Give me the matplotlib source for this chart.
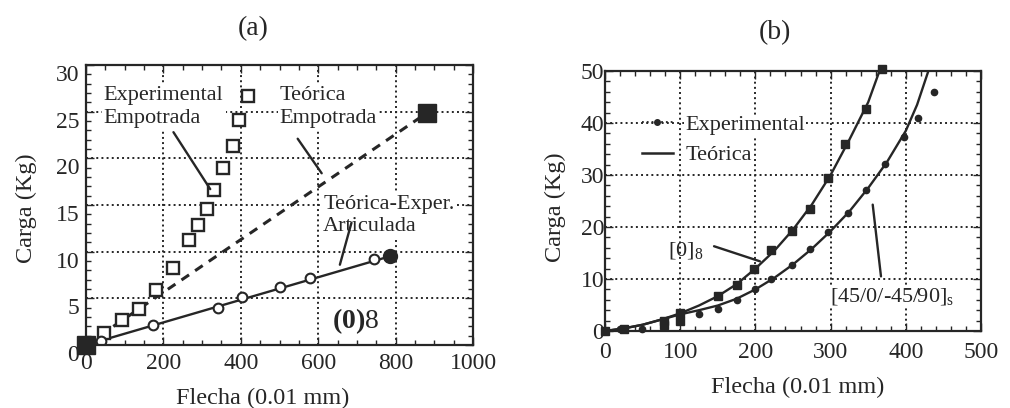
import matplotlib.pyplot as plt
from matplotlib.lines import Line2D
from matplotlib.ticker import MultipleLocator
from matplotlib.transforms import ScaledTranslation

plt.rcParams['font.family'] = ['Liberation Serif', 'DejaVu Serif']
plt.rcParams['mathtext.fontset'] = 'custom'
plt.rcParams['mathtext.rm'] = 'Liberation Serif'
plt.rcParams['mathtext.it'] = 'Liberation Serif:italic'
plt.rcParams['mathtext.bf'] = 'Liberation Serif:bold'

INK = '#262626'

# ---- panel (a): (0)8 laminate ----
exp_emp_x = [47, 93, 136, 181, 224, 267, 289, 312, 332, 355, 379, 396, 418]
exp_emp_y = [1.3, 2.7, 3.9, 5.9, 8.3, 11.2, 12.9, 14.6, 16.6, 19.0, 21.3, 24.1, 26.7]
teo_emp_x = [0, 882]
teo_emp_y = [0, 24.9]
art_x = [40, 172, 342, 404, 501, 580, 745]
art_y = [0.4, 2.1, 4.0, 5.1, 6.2, 7.2, 9.2]
teo_art_x = [0, 785]
teo_art_y = [0, 9.5]

# ---- panel (b) ----
sq_x = [0, 25, 79, 79, 100, 100, 150, 176, 198, 221, 249, 272, 296, 319, 347, 369]
sq_y = [0, 0.3, 2.0, 1.2, 3.5, 1.9, 6.7, 8.9, 11.9, 15.5, 19.2, 23.5, 29.4, 36.0, 42.7, 50.3]
dot_x = [0, 20, 49, 100, 125, 150, 176, 200, 221, 249, 272, 296, 323, 347, 372, 397, 416, 437]
dot_y = [0, 0.3, 0.3, 3.3, 3.2, 4.2, 6.0, 8.1, 10.0, 12.6, 15.8, 19.0, 22.7, 27.2, 32.1, 37.4, 41.0, 45.9]
teo0_x = [0, 25, 50, 75, 100, 125, 150, 175, 200, 225, 250, 275, 300, 325, 350, 365]
teo0_y = [0, 0.5, 1.2, 2.2, 3.4, 4.9, 6.7, 9.0, 12.0, 15.4, 19.5, 24.3, 30.0, 36.8, 44.0, 50.0]
teo45_x = [0, 25, 50, 75, 100, 125, 150, 175, 200, 225, 250, 275, 300, 325, 350, 375, 400, 415, 430]
teo45_y = [0, 0.5, 1.2, 2.2, 3.2, 4.0, 4.9, 6.2, 8.0, 10.2, 12.8, 15.8, 19.2, 23.0, 27.5, 32.5, 38.5, 43.5, 50.0]


def style(ax, xmaj, xmin, ymaj, ymin):
    ax.xaxis.set_major_locator(MultipleLocator(xmaj))
    ax.xaxis.set_minor_locator(MultipleLocator(xmin))
    ax.yaxis.set_major_locator(MultipleLocator(ymaj))
    ax.yaxis.set_minor_locator(MultipleLocator(ymin))
    ax.tick_params(which='both', direction='in', top=True, right=True,
                   colors=INK, labelsize=17, width=1.0)
    ax.tick_params(which='major', length=6)
    ax.tick_params(which='minor', length=3.5)
    for s in ax.spines.values():
        s.set_linewidth(1.6)
        s.set_color(INK)
    ax.grid(True, which='major', ls=':', lw=1.4, color=INK)
    ax.set_axisbelow(True)


fig = plt.figure(figsize=(10.1, 4.08), dpi=100)
ax1 = fig.add_axes([86/1010, 63/408, 387/1010, 280/408])
ax2 = fig.add_axes([605/1010, 77/408, 376/1010, 260/408])

# ---------- (a) ----------
style(ax1, 200, 50, 5, 1)
ax1.set_xlim(0, 1000)
ax1.set_ylim(0, 30)
ax1.tick_params(axis='x', pad=6)
ax1.tick_params(axis='y', pad=5)

ax1.plot(teo_emp_x, teo_emp_y, color=INK, lw=2.2, dashes=(3, 2.4))
ax1.plot(teo_art_x, teo_art_y, color=INK, lw=1.7)
ax1.plot(exp_emp_x, exp_emp_y, ls='none', marker='s', ms=8.5, mfc='white',
         mec=INK, mew=1.7)
ax1.plot(art_x, art_y, ls='none', marker='o', ms=7, mfc='white', mec=INK, mew=1.5)
ax1.plot(teo_emp_x, teo_emp_y, ls='none', marker='s', ms=13, color=INK, clip_on=False)
ax1.plot(teo_art_x[1:], teo_art_y[1:], ls='none', marker='o', ms=10, color=INK, clip_on=False)

box = dict(facecolor='white', edgecolor='none', pad=1.5)
ax1.text(46, 25.5, 'Experimental\nEmpotrada', ha='left', va='center', fontsize=16,
         color=INK, linespacing=1.25, bbox=box, zorder=1.5)
ax1.text(500, 25.5, 'Teórica\nEmpotrada', ha='left', va='center', fontsize=16,
         color=INK, linespacing=1.25, bbox=box, zorder=1.5)
ax1.text(613, 13.9, 'Teórica-Exper.\nArticulada', ha='left', va='center', fontsize=16,
         color=INK, linespacing=1.25, bbox=box, zorder=1.5)
ax1.text(636, 2.6, r'$\mathbf{(0)}$8', ha='left', va='center', fontsize=20, color=INK)
for (x0, y0), (x1, y1) in [((226, 22.8), (321, 16.7)),
                           ((547, 22.1), (609, 18.4)),
                           ((686, 13.1), (656, 8.6))]:
    ax1.annotate('', xy=(x1, y1), xytext=(x0, y0),
                 arrowprops=dict(arrowstyle='-', lw=1.7, color=INK,
                                 shrinkA=0, shrinkB=0))

for lab in ax1.get_yticklabels():
    lab.set_transform(lab.get_transform() + ScaledTranslation(0, -0.08, fig.dpi_scale_trans))

# ---------- (b) ----------
style(ax2, 100, 20, 10, 2)
ax2.set_xlim(0, 500)
ax2.set_ylim(0, 50)
ax2.tick_params(axis='x', pad=8)
ax2.tick_params(axis='y', pad=0.5)

ax2.plot(teo0_x, teo0_y, color=INK, lw=1.7)
ax2.plot(teo45_x, teo45_y, color=INK, lw=1.7)
ax2.plot(sq_x, sq_y, ls='none', marker='s', ms=6, color=INK, clip_on=False)
ax2.plot(dot_x, dot_y, ls='none', marker='o', ms=4.5, color=INK, clip_on=False)

handles = [Line2D([], [], ls=':', lw=1.3, color=INK, marker='o', ms=4),
           Line2D([], [], ls='-', lw=1.8, color=INK)]
leg = ax2.legend(handles, ['Experimental', 'Teórica'], loc='center left',
                 bbox_to_anchor=(0.098, 0.735), frameon=False, fontsize=16,
                 borderpad=0, borderaxespad=0, handlelength=1.4,
                 handletextpad=0.55, labelspacing=0.45)
for t in leg.get_texts():
    t.set_color(INK)
    t.set_bbox(dict(facecolor='white', edgecolor='none', pad=1))

ax2.text(84, 14.5, r'[0]$_8$', ha='left', va='baseline', fontsize=16, color=INK)
ax2.text(299, 5.7, r'[45/0/-45/90]$_\mathrm{s}$', ha='left', va='baseline', fontsize=16,
         color=INK, bbox=dict(facecolor='white', edgecolor='none', pad=1))
for (x0, y0), (x1, y1) in [((145, 16.3), (206, 13.4)),
                           ((356, 24.3), (367, 10.5))]:
    ax2.annotate('', xy=(x1, y1), xytext=(x0, y0),
                 arrowprops=dict(arrowstyle='-', lw=1.7, color=INK,
                                 shrinkA=0, shrinkB=0))

# titles and axis labels
fig.text(253/1010, 1 - 29/408, '(a)', ha='center', va='center', fontsize=20, color=INK)
fig.text(775/1010, 1 - 33/408, '(b)', ha='center', va='center', fontsize=20, color=INK)
fig.text(263/1010, 1 - 398/408, 'Flecha (0.01 mm)', ha='center', va='center',
         fontsize=17.5, color=INK)
fig.text(798/1010, 1 - 387/408, 'Flecha (0.01 mm)', ha='center', va='center',
         fontsize=17.5, color=INK)
fig.text(26/1010, 1 - 208/408, 'Carga (Kg)', rotation=90, ha='center', va='center',
         fontsize=17.5, color=INK)
fig.text(555/1010, 1 - 207/408, 'Carga (Kg)', rotation=90, ha='center', va='center',
         fontsize=17.5, color=INK)

fig.savefig('out.png', dpi=100, facecolor='white')
